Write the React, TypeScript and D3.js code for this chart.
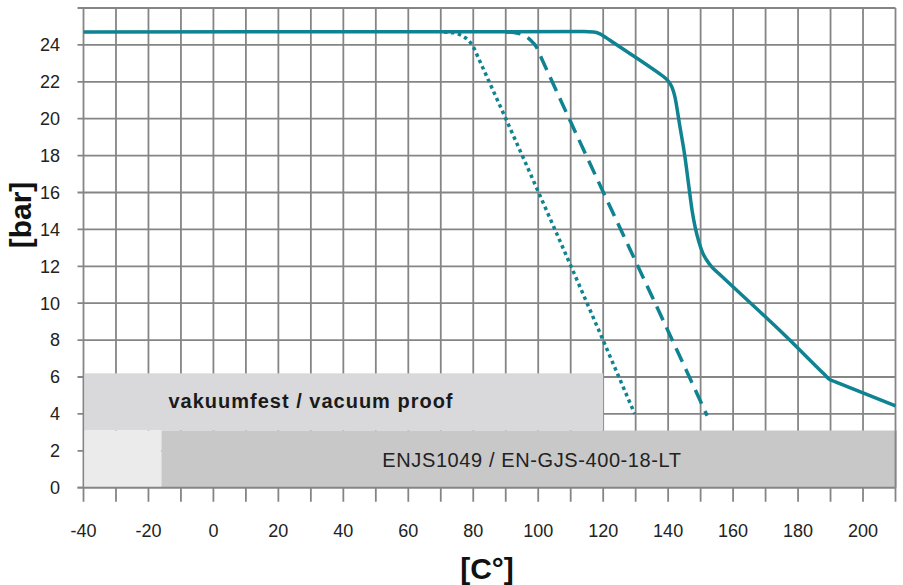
import React from "react";
import * as d3 from "d3";

const xTickLabels = [-40, -20, 0, 20, 40, 60, 80, 100, 120, 140, 160, 180, 200];
const yTickLabels = [0, 2, 4, 6, 8, 10, 12, 14, 16, 18, 20, 22, 24];

const solidT = [-40, 114, 117, 119, 121, 123, 137, 139, 140.3, 141.2, 142, 143.6, 145.2, 146.4, 147.4, 148.4, 149.5, 150.7, 152, 153.5, 155.5, 176.4, 188, 189.7, 191.5, 210];
const solidP = [24.7, 24.72, 24.7, 24.6, 24.38, 24.14, 22.48, 22.22, 21.98, 21.7, 21.25, 19.6, 17.9, 16.3, 15.0, 14.05, 13.3, 12.7, 12.3, 11.95, 11.62, 8.18, 6.16, 5.87, 5.74, 4.43];

const dashedT = [90, 93, 95.5, 97.5, 99.4, 101, 150, 152];
const dashedP = [24.7, 24.66, 24.52, 24.28, 23.9, 23.28, 4.67, 3.9];

const dottedT = [71, 74, 76.5, 78.5, 80, 81.5, 128, 129.7];
const dottedP = [24.7, 24.66, 24.5, 24.25, 23.9, 23.32, 4.7, 4.0];

const bandVacuum = { label: "vakuumfest / vacuum proof", t0: -40, t1: 120, p0: 3.1, p1: 6.2 };
const bandMaterial = { label: "ENJS1049 / EN-GJS-400-18-LT", t0: -16, t1: 210, p0: 0, p1: 3.1 };
const bandLight = { t0: -40, t1: -16, p0: 0, p1: 3.1 };

const TEAL = "#0f8391";
const GRID = "#858585";
const FONT = "'Liberation Sans', Arial, Helvetica, sans-serif";

export default function App() {
  const W = 903, H = 585;
  const x = d3.scaleLinear().domain([-40, 210]).range([83.5, 895.5]);
  const y = d3.scaleLinear().domain([0, 26]).range([487.7, 8]);

  const vGrid = d3.range(-40, 211, 10);
  const hGrid = d3.range(0, 27, 2);

  const line = d3
    .line<[number, number]>()
    .x((d) => x(d[0]))
    .y((d) => y(d[1]))
    .curve(d3.curveMonotoneX);

  const zip = (a: number[], b: number[]) => a.map((v, i) => [v, b[i]] as [number, number]);

  const rect = (b: { t0: number; t1: number; p0: number; p1: number }) => ({
    x: x(b.t0),
    y: y(b.p1),
    width: x(b.t1) - x(b.t0),
    height: y(b.p0) - y(b.p1),
  });

  return (
    <svg width={W} height={H} style={{ position: "absolute", left: 0, top: 0, background: "#fff" }}>
      {/* grid */}
      <g>
        {vGrid.map((t) => (
          <line key={"v" + t} x1={x(t)} x2={x(t)} y1={y(26)} y2={y(0) + 14} stroke={GRID} strokeWidth={1.8} />
        ))}
        {hGrid.map((p) => (
          <line key={"h" + p} x1={x(-40) - 6} x2={x(210)} y1={y(p)} y2={y(p)} stroke={GRID} strokeWidth={1.8} />
        ))}
      </g>
      {/* bands */}
      <rect {...rect(bandVacuum)} fill="#d9d9db" />
      <rect {...rect(bandLight)} fill="#ebebeb" />
      <rect {...rect(bandMaterial)} fill="#c8c8c9" />
      <line x1={x(-40)} x2={x(-40)} y1={y(0)} y2={y(6.2)} stroke={GRID} strokeWidth={1.2} />
      <line x1={x(210)} x2={x(210)} y1={y(0)} y2={y(3.1)} stroke={GRID} strokeWidth={1.8} />
      <line x1={x(-40) - 6} x2={x(210)} y1={y(0)} y2={y(0)} stroke={GRID} strokeWidth={1.8} />
      <text
        x={311}
        y={408}
        textAnchor="middle"
        fontFamily={FONT}
        fontWeight="bold"
        fontSize={20}
        letterSpacing={1}
        fill="#1a1a1a"
      >
        {bandVacuum.label}
      </text>
      <text x={532} y={467} textAnchor="middle" fontFamily={FONT} fontSize={20} letterSpacing={0.6} fill="#222">
        {bandMaterial.label}
      </text>

      {/* curves */}
      <path d={line(zip(dottedT, dottedP)) || ""} fill="none" stroke={TEAL} strokeWidth={3.5} strokeDasharray="3.5 3.5" />
      <path d={line(zip(dashedT, dashedP)) || ""} fill="none" stroke={TEAL} strokeWidth={3.5} strokeDasharray="15 8" />
      <path d={line(zip(solidT, solidP)) || ""} fill="none" stroke={TEAL} strokeWidth={3.5} strokeLinejoin="round" />

      {/* tick labels */}
      {xTickLabels.map((t) => (
        <text key={"xl" + t} x={x(t)} y={537} textAnchor="middle" fontFamily={FONT} fontSize={18} fill="#222">
          {t}
        </text>
      ))}
      {yTickLabels.map((p) => (
        <text key={"yl" + p} x={60} y={y(p)} dy="0.35em" textAnchor="end" fontFamily={FONT} fontSize={18} fill="#222">
          {p}
        </text>
      ))}

      {/* axis titles */}
      <text
        transform={`translate(31,215) rotate(-90)`}
        textAnchor="middle"
        fontFamily={FONT}
        fontWeight="bold"
        fontSize={30}
        fill="#111"
      >
        [bar]
      </text>
      <text x={487} y={579} textAnchor="middle" fontFamily={FONT} fontWeight="bold" fontSize={30} fill="#111">
        [C°]
      </text>
    </svg>
  );
}
